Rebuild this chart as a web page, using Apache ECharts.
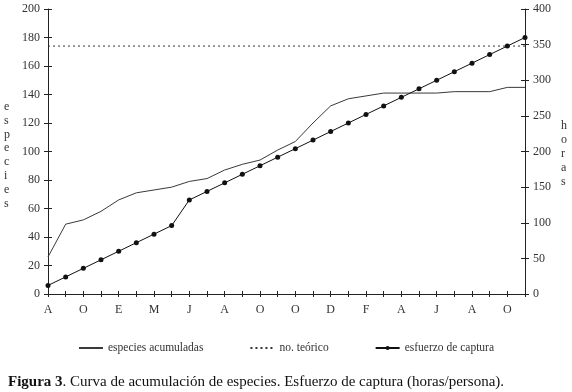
<!DOCTYPE html>
<html>
<head>
<meta charset="utf-8">
<script src="https://cdn.jsdelivr.net/npm/echarts@6/dist/echarts.min.js"></script>
<style>
html,body{margin:0;padding:0;background:#fff;}
#chart{width:572px;height:392px;}
</style>
</head>
<body>
<div id="chart"></div>
<script>
// Tick labels on the category axis (every other sample)
const xLabels = ['A','O','E','M','J','A','O','O','D','F','A','J','A','O'];
// Accumulated species (left axis)
const especies = [26, 49, 52, 58, 66, 71, 73, 75, 79, 81, 87, 91, 94, 101,
                  107, 120, 132, 137, 139, 141, 141, 141, 141, 142, 142, 142, 145, 145];
// Theoretical number of species (left axis)
const teorico = [174, 174, 174, 174, 174, 174, 174, 174, 174, 174, 174, 174, 174, 174,
                 174, 174, 174, 174, 174, 174, 174, 174, 174, 174, 174, 174, 174, 174];
// Capture effort, hours/person (right axis)
const esfuerzo = [12, 24, 36, 48, 60, 72, 84, 96, 132, 144, 156, 168, 180, 192,
                  204, 216, 228, 240, 252, 264, 276, 288, 300, 312, 324, 336, 348, 360];
const leftTicks = [0, 20, 40, 60, 80, 100, 120, 140, 160, 180, 200];
const rightTicks = [0, 50, 100, 150, 200, 250, 300, 350, 400];

const samples = especies.map((_, i) => String(i));
const FONT = '"Liberation Serif", "DejaVu Serif", serif';
const INK = '#222';

const chart = echarts.init(document.getElementById('chart'), null, {renderer: 'canvas'});

const xBase = {
  type: 'category',
  data: samples,
  boundaryGap: false,
  position: 'bottom'
};
function yBase(side, ticks) {
  return {
    type: 'value',
    position: side,
    min: ticks[0],
    max: ticks[ticks.length - 1],
    interval: ticks[1] - ticks[0],
    splitLine: {show: false}
  };
}

chart.setOption({
  animation: false,
  backgroundColor: '#fff',
  textStyle: {fontFamily: FONT},
  grid: {left: 48, right: 47, top: 9, bottom: 98, containLabel: false},
  title: {
    left: 3, top: 370,
    text: '{b|Figura 3}. Curva de acumulación de especies. Esfuerzo de captura (horas/persona).',
    textStyle: {
      fontFamily: FONT, fontSize: 15, fontWeight: 'normal', color: '#111',
      rich: {b: {fontFamily: FONT, fontSize: 15, fontWeight: 'bold', color: '#111'}}
    }
  },
  legend: {
    show: true,
    orient: 'horizontal',
    left: 'center', top: 337,
    itemWidth: 24, itemHeight: 5, itemGap: 46,
    textStyle: {fontFamily: FONT, fontSize: 11.5, color: '#333'},
    data: [
      {name: 'especies acumuladas', itemStyle: {opacity: 0}},
      {name: 'no. teórico', itemStyle: {opacity: 0}},
      {name: 'esfuerzo de captura'}
    ]
  },
  graphic: [
    {type: 'text', left: 4, top: 100,
     style: {text: 'e\ns\np\ne\nc\ni\ne\ns', fontFamily: FONT, fontSize: 12, lineHeight: 13.8, fill: '#333', align: 'center'}},
    {type: 'text', left: 561, top: 119,
     style: {text: 'h\no\nr\na\ns', fontFamily: FONT, fontSize: 12, lineHeight: 14, fill: '#333', align: 'center'}}
  ],
  xAxis: [
    Object.assign({}, xBase, {
      axisLine: {show: true, lineStyle: {color: INK, width: 1}},
      axisTick: {show: true, interval: 0, length: 3, inside: false, lineStyle: {color: INK}},
      axisLabel: {
        interval: 0, margin: 10, fontFamily: FONT, fontSize: 12, color: '#333',
        formatter: (v, i) => (i % 2 === 0 ? xLabels[i / 2] : '')
      }
    }),
    Object.assign({}, xBase, {
      axisLine: {show: false},
      axisTick: {show: true, interval: 0, length: 3, inside: true, lineStyle: {color: INK}},
      axisLabel: {show: false}
    })
  ],
  yAxis: [
    Object.assign(yBase('left', leftTicks), {
      axisLine: {show: true, lineStyle: {color: INK}},
      axisTick: {show: true, length: 4, inside: false, lineStyle: {color: INK}},
      axisLabel: {margin: 8, fontFamily: FONT, fontSize: 12, color: '#333'}
    }),
    Object.assign(yBase('right', rightTicks), {
      axisLine: {show: true, lineStyle: {color: INK}},
      axisTick: {show: true, length: 4, inside: false, lineStyle: {color: INK}},
      axisLabel: {margin: 8, fontFamily: FONT, fontSize: 12, color: '#333'}
    }),
    Object.assign(yBase('left', leftTicks), {
      axisLine: {show: false},
      axisTick: {show: true, length: 4, inside: true, lineStyle: {color: INK}},
      axisLabel: {show: false}
    }),
    Object.assign(yBase('right', rightTicks), {
      axisLine: {show: false},
      axisTick: {show: true, length: 4, inside: true, lineStyle: {color: INK}},
      axisLabel: {show: false}
    })
  ],
  series: [
    {
      name: 'especies acumuladas', type: 'line', xAxisIndex: 0, yAxisIndex: 0,
      data: especies, symbol: 'none', smooth: false,
      lineStyle: {color: '#3a3a3a', width: 1},
      itemStyle: {color: '#3a3a3a'}
    },
    {
      name: 'no. teórico', type: 'line', xAxisIndex: 0, yAxisIndex: 0,
      data: teorico, symbol: 'none',
      lineStyle: {color: '#333', width: 1, type: [2, 3]},
      itemStyle: {color: '#333'}
    },
    {
      name: 'esfuerzo de captura', type: 'line', xAxisIndex: 0, yAxisIndex: 1,
      data: esfuerzo, symbol: 'circle', symbolSize: 5, showSymbol: true,
      lineStyle: {color: '#111', width: 1},
      itemStyle: {color: '#111'}
    }
  ]
});
</script>
</body>
</html>
